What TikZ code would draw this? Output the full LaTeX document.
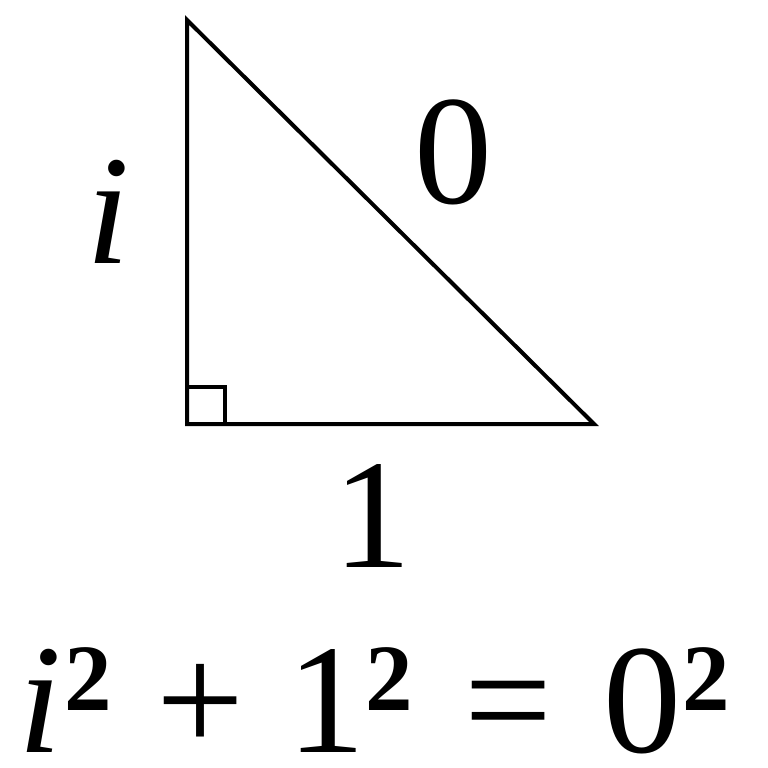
\documentclass[tikz,border=0pt]{standalone}
\usepackage{fontspec}
\setmainfont{Liberation Serif}[ItalicFont={Liberation Serif Italic},BoldFont={Liberation Serif Bold}]
\newcommand{\sqtwo}{\raisebox{42pt}{\fontsize{95}{100}\selectfont\bfseries 2}}
\begin{document}
\begin{tikzpicture}[x=1pt,y=-1pt,
  edge/.style={line width=4pt,line join=miter},
  lbl/.style={font=\fontsize{156}{180}\selectfont,inner sep=0pt,anchor=base}]
\useasboundingbox (0,0) rectangle (768,768);
\coordinate (A) at (187,20);
\coordinate (B) at (187,424);
\coordinate (C) at (594,424);
\draw[edge] (A) -- (B) -- (C) -- cycle;
\draw[line width=3.2pt] (187,387) -- (225,387) -- (225,424);
\node[lbl] (li) at (108,263) {\itshape i};
\node[lbl] (lz) at (453,203) {0};
\node[lbl] (lo) at (372,567) {1};
\node[lbl] (eq) at (374,752) {{\itshape i}\hspace{0.02em}\sqtwo\hspace{0.28em}+\hspace{0.28em}1\sqtwo\hspace{0.33em}=\hspace{0.33em}0\sqtwo};
\end{tikzpicture}
\end{document}
